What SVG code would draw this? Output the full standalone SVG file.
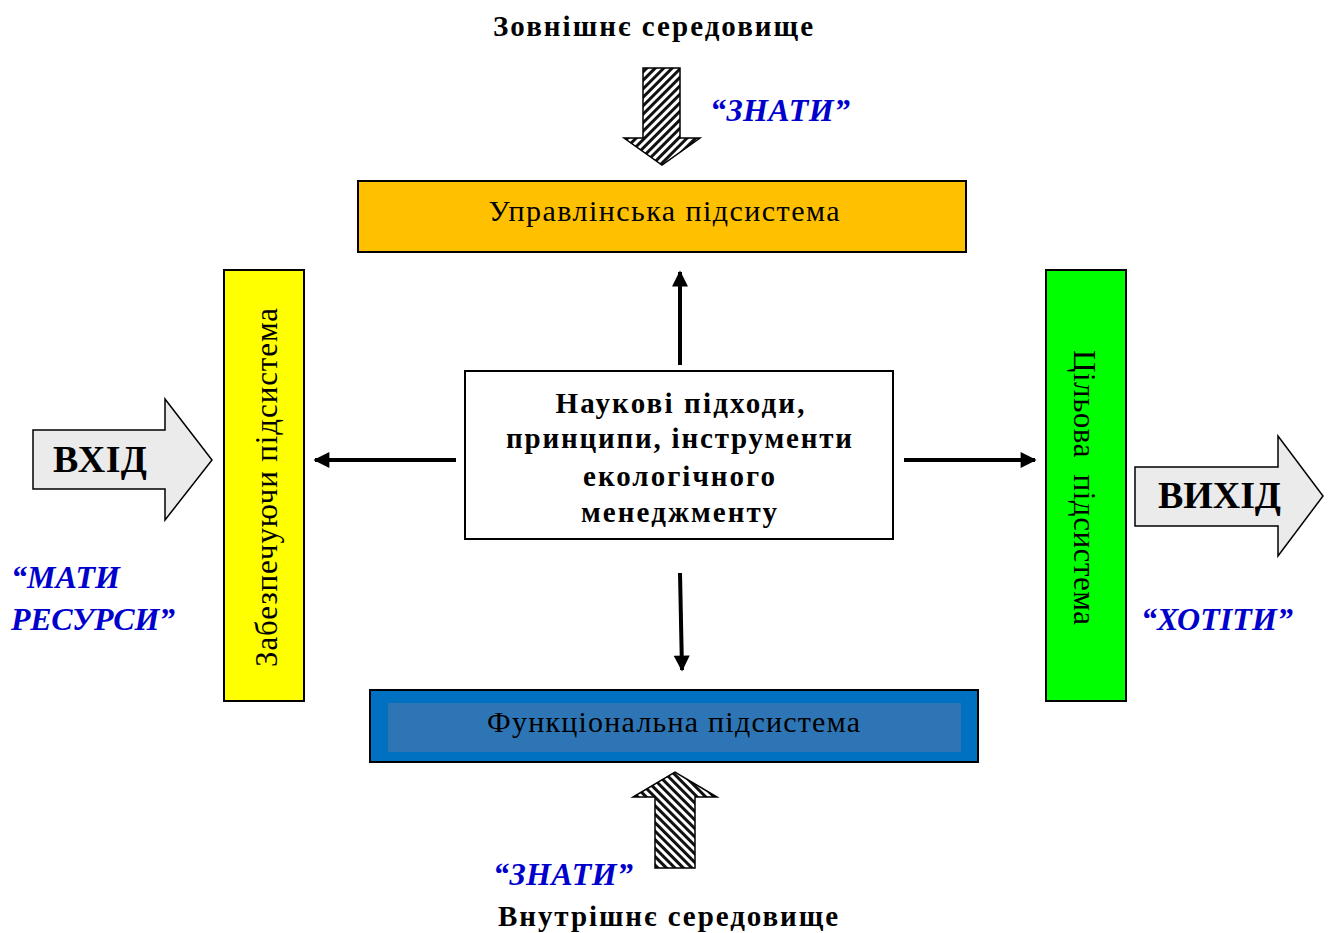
<svg xmlns="http://www.w3.org/2000/svg" width="1328" height="933" viewBox="0 0 1328 933">
<style>
.t{font-family:"Liberation Serif","Times New Roman",serif;fill:#000}
.b{font-weight:bold}
.blue{font-family:"Liberation Serif","Times New Roman",serif;font-weight:bold;font-style:italic;fill:#0000CC;font-size:32px}
.box{stroke:#000;stroke-width:2}
.con{stroke:#000;stroke-width:4;fill:none}
.blk{fill:#EBEBEB;stroke:#000;stroke-width:1.5}
.hat{stroke:#000;stroke-width:1.5}
</style>
<defs>
<pattern id="hatchA" width="6" height="6" patternUnits="userSpaceOnUse" patternTransform="rotate(45)">
<rect width="6" height="6" fill="#fff"/>
<rect width="3" height="6" fill="#111"/>
</pattern>
<pattern id="hatchB" width="6" height="6" patternUnits="userSpaceOnUse" patternTransform="rotate(-45)">
<rect width="6" height="6" fill="#fff"/>
<rect width="3" height="6" fill="#111"/>
</pattern>
<marker id="ah" viewBox="0 0 10 10" refX="9" refY="5" markerWidth="4.5" markerHeight="4" orient="auto" markerUnits="strokeWidth">
<path d="M0,0 L10,5 L0,10 z" fill="#000"/>
</marker>
</defs>
<rect width="1328" height="933" fill="#fff"/>

<g id="env-top">
<text class="t b" x="653" y="36" font-size="29" text-anchor="middle" textLength="320">Зовнішнє середовище</text>
<path class="hat" fill="url(#hatchA)" d="M643,68 H680 V138 H700 L662,165 L624,138 H643 Z"/>
<text class="blue" x="710" y="121" textLength="140">“ЗНАТИ”</text>
</g>

<g id="env-bottom">
<path class="hat" fill="url(#hatchB)" d="M655,868 H695 V797 H717 L675,772 L633,797 H655 Z"/>
<text class="blue" x="493" y="885" textLength="140">“ЗНАТИ”</text>
<text class="t b" x="668" y="926" font-size="29" text-anchor="middle" textLength="340">Внутрішнє середовище</text>
</g>

<g id="mgmt">
<rect class="box" x="358" y="181" width="608" height="71" fill="#FFC000"/>
<text class="t" x="664" y="221" font-size="30" text-anchor="middle" textLength="351">Управлінська підсистема</text>
</g>

<g id="support">
<rect class="box" x="224" y="270" width="80" height="431" fill="#FFFF00"/>
<text class="t" transform="translate(277,487.5) rotate(-90)" font-size="31" text-anchor="middle" textLength="359">Забезпечуючи підсистема</text>
</g>

<g id="target">
<rect class="box" x="1046" y="270" width="80" height="431" fill="#00FF00"/>
<text class="t" transform="translate(1074,487.5) rotate(90)" font-size="31" text-anchor="middle" textLength="275" xml:space="preserve">Цільова  підсистема</text>
</g>

<g id="core">
<rect class="box" x="465" y="371" width="428" height="168" fill="#fff"/>
<text class="t b" x="680" y="413" font-size="29" text-anchor="middle" textLength="249">Наукові підходи,</text>
<text class="t b" x="679" y="448" font-size="29" text-anchor="middle" textLength="346">принципи, інструменти</text>
<text class="t b" x="679" y="486" font-size="29" text-anchor="middle" textLength="192">екологічного</text>
<text class="t b" x="679" y="522" font-size="29" text-anchor="middle" textLength="196">менеджменту</text>
</g>

<g id="func">
<rect class="box" x="370" y="690" width="608" height="72" fill="#0070C0"/>
<rect x="388" y="703" width="573" height="49" fill="#2E75B6"/>
<text class="t" x="673.5" y="732" font-size="30" text-anchor="middle" textLength="373">Функціональна підсистема</text>
</g>

<g id="input">
<path class="blk" d="M33,430 H165 V399 L212,460 L165,520 V489 H33 Z"/>
<text class="t b" x="100" y="472" font-size="38" text-anchor="middle" textLength="94">ВХІД</text>
<text class="blue" x="11" y="588" textLength="109">“МАТИ</text>
<text class="blue" x="11" y="630" textLength="164">РЕСУРСИ”</text>
</g>

<g id="output">
<path class="blk" d="M1135,467 H1278 V436 L1323,496 L1278,556 V526 H1135 Z"/>
<text class="t b" x="1219.5" y="508" font-size="38" text-anchor="middle" textLength="123">ВИХІД</text>
<text class="blue" x="1141" y="630" textLength="152">“ХОТІТИ”</text>
</g>

<g id="connectors">
<line class="con" x1="680" y1="365" x2="680" y2="272" marker-end="url(#ah)"/>
<line class="con" x1="456" y1="460" x2="315" y2="460" marker-end="url(#ah)"/>
<line class="con" x1="904" y1="460" x2="1035" y2="460" marker-end="url(#ah)"/>
<line class="con" x1="680" y1="573" x2="682" y2="670" marker-end="url(#ah)"/>
</g>
</svg>
